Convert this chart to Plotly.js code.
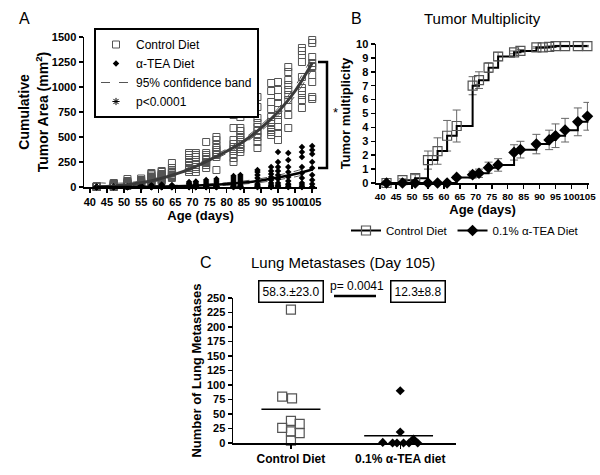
<!DOCTYPE html>
<html><head><meta charset="utf-8">
<script src="https://cdn.plot.ly/plotly-3.0.1.min.js"></script>
<style>html,body{margin:0;padding:0;background:#fff}</style>
</head><body><div id="chart" style="width:600px;height:475px"></div>
<script>
// ---------- Panel A: cumulative tumor area ----------
const areaDays = [42,47,51,55,58,61,64,69,71,74,77,82,84,89,93,95,98,102,105];
const controlArea = [
  [0,0,0,0,0,5,5,10,0,0],
  [0,5,10,15,20,25,30,35,40,0],
  [10,15,20,30,40,50,60,80,25,35],
  [20,30,40,50,60,70,85,45,35,25],
  [40,60,70,90,100,115,130,140,80,50],
  [60,80,100,110,120,130,150,160,90,70],
  [90,110,120,135,150,165,190,240,100,140],
  [150,170,190,210,220,240,250,290,320,340],
  [150,180,200,220,250,270,300,320,340,200],
  [190,220,250,270,300,320,340,450,240,280],
  [170,300,330,350,370,390,420,470,500,320],
  [250,290,330,360,400,430,470,590,720,380],
  [350,380,400,430,470,500,520,560,590,700],
  [390,450,500,530,560,600,640,690,800,900],
  [520,550,570,600,650,700,780,850,960,1040],
  [470,540,600,670,720,770,840,900,970,1050],
  [590,720,800,870,920,970,1020,1070,1150,1200],
  [790,870,920,960,990,1100,1250,1320,1360,1390],
  [880,900,1050,1120,1200,1210,1240,1300,1440,1470]
];
const teaArea = [
  [0,0,0,0,0,0,0,0,0,0],
  [0,0,0,0,0,0,0,0,5,0],
  [0,0,0,0,5,0,0,10,0,0],
  [0,0,0,5,10,0,0,15,0,0],
  [0,0,0,5,10,20,0,0,0,0],
  [0,0,5,10,15,25,0,0,0,0],
  [0,0,5,10,20,0,0,0,0,0],
  [0,0,5,10,20,35,50,0,0,0],
  [0,0,5,15,25,40,55,0,0,0],
  [0,0,10,20,30,50,70,0,5,0],
  [0,0,10,25,40,60,80,0,5,0],
  [0,5,15,30,50,70,90,110,0,0],
  [0,5,20,40,60,80,100,120,0,10],
  [0,10,30,60,90,120,150,170,0,20],
  [0,10,40,70,100,130,160,200,0,20],
  [0,20,40,80,120,160,200,250,350,10],
  [0,20,60,100,150,200,270,340,0,30],
  [0,20,40,90,140,200,300,350,400,0],
  [0,30,70,120,190,250,330,370,410,0]
];
const fitDays    = [42,45,50,55,60,65,70,75,80,85,90,95,100,105];
const controlFit = [2,6,20,42,78,128,192,272,358,458,588,750,960,1240];
const controlHi  = [45,38,40,60,94,145,210,292,380,484,618,786,1008,1300];
const controlLo  = [-40,-25,2,26,62,112,175,253,336,433,560,714,912,1180];
const teaFit     = [0,0,0,2,5,8,13,20,30,45,65,95,130,175];
const teaHi      = [14,12,10,11,13,17,23,31,43,60,84,118,158,210];
const teaLo      = [-14,-12,-10,-7,-3,0,4,9,17,30,46,72,102,140];

// ---------- Panel B: tumor multiplicity ----------
const multDays = [42,47,51,55,58,61,64,69,71,74,77,82,84,89,91,93,95,98,102,105];
const controlMult = [0,0.2,0.35,1.65,2.3,3.4,4.1,7.0,7.4,8.3,9.1,9.4,9.5,9.75,9.75,9.8,9.85,9.85,9.85,9.85];
const controlMultErr = [0,0.1,0.25,0.65,0.95,1.1,1.15,0.65,0.6,0.35,0.3,0.1,0.1,0.05,0.05,0.05,0.05,0.05,0.05,0.05];
const teaMultDays = [42,47,51,55,58,61,64,69,71,74,77,82,84,89,93,95,98,102,105];
const teaMult    = [0,0,0,0,0,0,0.4,0.6,0.7,1.1,1.3,2.2,2.4,2.8,3.1,3.4,3.8,4.4,4.8];
const teaMultErr = [0,0,0,0,0,0,0.1,0.25,0.3,0.4,0.45,0.55,0.6,0.7,0.7,0.85,0.85,1.0,1.0];

// ---------- Panel C: lung metastases ----------
const metCategories = ['Control Diet', '0.1% \u03b1-TEA diet'];
const controlMets = [230,80,77,38,33,26,20,17,4];
const controlJitter = [0,-0.08,0.01,0,0.08,-0.08,0,0.08,0];
const teaMets = [90,19,7,1,0,0,0,0,0];
const teaJitter = [0,0,0.12,-0.16,-0.07,-0.03,0.03,0.08,0.16];
const metMeans = [58.3, 12.3];
const metLabels = ['58.3.\u00b123.0', '12.3\u00b18.8'];
const pLabel = 'p= 0.0041';

// ---------- helpers ----------
const W = 600, H = 475;
const fx = p => p / W, fy = p => 1 - p / H;
const FONT = 'Liberation Sans, Arial, sans-serif';
function flatten(days, groups) {
  const x = [], y = [];
  groups.forEach((g, i) => g.forEach(v => { x.push(days[i]); y.push(v); }));
  return {x, y};
}
const cA = flatten(areaDays, controlArea);
const tA = flatten(areaDays, teaArea);
const band = {color:'#555', width:1, dash:'dash', shape:'spline'};

const traces = [
  // Panel A
  {x: fitDays, y: controlHi, xaxis:'x', yaxis:'y', mode:'lines', line:band, showlegend:false},
  {x: fitDays, y: controlLo, xaxis:'x', yaxis:'y', mode:'lines', line:band, showlegend:false},
  {x: fitDays, y: teaHi, xaxis:'x', yaxis:'y', mode:'lines', line:band, showlegend:false},
  {x: fitDays, y: teaLo, xaxis:'x', yaxis:'y', mode:'lines', line:band, showlegend:false},
  {x: cA.x, y: cA.y, xaxis:'x', yaxis:'y', mode:'markers', name:'Control Diet', legend:'legend',
   marker:{symbol:'square-open', size:7, color:'#555', line:{width:1}}, cliponaxis:false},
  {x: tA.x, y: tA.y, xaxis:'x', yaxis:'y', mode:'markers', name:'\u03b1-TEA Diet', legend:'legend',
   marker:{symbol:'diamond', size:5, color:'#000'}, cliponaxis:false},
  {x: fitDays, y: controlFit, xaxis:'x', yaxis:'y', mode:'lines', line:{color:'#3a3a3a', width:3, shape:'spline'}, showlegend:false},
  {x: fitDays, y: teaFit, xaxis:'x', yaxis:'y', mode:'lines', line:{color:'#000', width:2.5, shape:'spline'}, showlegend:false},
  {x:[null], y:[null], xaxis:'x', yaxis:'y', mode:'lines', line:{color:'#555', width:1, dash:'dash'}, name:'95% confidence band', legend:'legend'},
  {x:[null], y:[null], xaxis:'x', yaxis:'y', mode:'markers', marker:{symbol:'asterisk-open', size:6, color:'#000', line:{width:1,color:'#000'}}, name:'p<0.0001', legend:'legend'},
  // Panel B
  {x: multDays, y: controlMult, xaxis:'x2', yaxis:'y2', mode:'lines+markers', name:'Control Diet', legend:'legend2',
   line:{color:'#000', width:2, shape:'hv'}, marker:{symbol:'square-open', size:9, color:'#555', line:{width:1.2}},
   error_y:{type:'data', array: controlMultErr, color:'#666', thickness:1, width:4}, cliponaxis:false},
  {x: teaMultDays, y: teaMult, xaxis:'x2', yaxis:'y2', mode:'lines+markers', name:'0.1% \u03b1-TEA Diet', legend:'legend2',
   line:{color:'#000', width:2, shape:'hv'}, marker:{symbol:'diamond', size:9, color:'#000'},
   error_y:{type:'data', array: teaMultErr, color:'#666', thickness:1, width:4}, cliponaxis:false},
  // Panel C
  {x: controlJitter.map(d => 0 + d), y: controlMets, xaxis:'x3', yaxis:'y3', mode:'markers', showlegend:false,
   marker:{symbol:'square-open', size:9, color:'#555', line:{width:1.2}}, cliponaxis:false},
  {x: teaJitter.map(d => 1 + d), y: teaMets, xaxis:'x3', yaxis:'y3', mode:'markers', showlegend:false,
   marker:{symbol:'diamond', size:7, color:'#000'}, cliponaxis:false},
  {x: [-0.27, 0.27], y: [metMeans[0], metMeans[0]], xaxis:'x3', yaxis:'y3', mode:'lines', line:{color:'#000', width:1.5}, showlegend:false},
  {x: [0.67, 1.3], y: [metMeans[1], metMeans[1]], xaxis:'x3', yaxis:'y3', mode:'lines', line:{color:'#000', width:1.5}, showlegend:false}
];

const axisBase = {
  showline:true, linecolor:'#000', linewidth:1.5, ticks:'outside', ticklen:4, tickwidth:1.5, tickcolor:'#000',
  showgrid:false, zeroline:false, tickangle:0, fixedrange:true,
  tickfont:{family:FONT, size:11, color:'#000', weight:'bold'}
};
const titleFont = {family:FONT, size:13, color:'#000', weight:'bold'};
const ann = (text, px, py, size, extra) => Object.assign({text, xref:'paper', yref:'paper', x:fx(px), y:fy(py),
  xanchor:'center', yanchor:'middle', showarrow:false, font:{family:FONT, size, color:'#000'}}, extra || {});

const layout = {
  width: W, height: H, autosize:false,
  margin:{l:0,r:0,t:0,b:0},
  paper_bgcolor:'#fff', plot_bgcolor:'rgba(0,0,0,0)',
  font:{family:FONT, color:'#000'},
  xaxis: Object.assign({}, axisBase, {domain:[fx(84), fx(317)], range:[38.3,106.4], anchor:'y', tickmode:'linear', tick0:40, dtick:5,
    title:{text:'Age (days)', font:titleFont, standoff:3}}),
  yaxis: Object.assign({}, axisBase, {domain:[fy(187), fy(37)], range:[0,1500], anchor:'x', tickvals:[0,250,500,750,1000,1250,1500],
    title:{text:'Cumulative<br>Tumor Area (mm<sup>2</sup>)', font:{family:FONT, size:14, color:'#000', weight:'bold'}, standoff:0}}),
  xaxis2: Object.assign({}, axisBase, {domain:[fx(376), fx(589)], range:[38.7,105.5], anchor:'y2', tickmode:'linear', tick0:40, dtick:5,
    tickfont:{family:FONT, size:9.8, color:'#000', weight:'bold'},
    title:{text:'Age (days)', font:titleFont, standoff:2}}),
  yaxis2: Object.assign({}, axisBase, {domain:[fy(183), fy(44)], range:[0,10], anchor:'x2', dtick:1,
    title:{text:'Tumor multiplicity', font:titleFont, standoff:2}}),
  xaxis3: Object.assign({}, axisBase, {domain:[fx(233), fx(456)], range:[-0.53,1.51], anchor:'y3', tickvals:[0,1], ticktext:metCategories,
    tickfont:{family:FONT, size:12, color:'#000', weight:'bold'}}),
  yaxis3: Object.assign({}, axisBase, {domain:[fy(443), fy(298)], range:[0,250], anchor:'x3', dtick:25,
    title:{text:'Number of Lung Metastases', font:titleFont, standoff:2}}),
  legend: {x:fx(94), y:fy(28), xanchor:'left', yanchor:'top', bordercolor:'#000', borderwidth:2, bgcolor:'#fff',
    font:{family:FONT, size:12, color:'#000'}, itemwidth:30, tracegroupgap:0, traceorder:'normal'},
  legend2: {orientation:'h', x:fx(346), y:fy(216), xanchor:'left', yanchor:'top', bgcolor:'rgba(0,0,0,0)',
    font:{family:FONT, size:11.5, color:'#000'}, itemwidth:30},
  annotations: [
    ann('A', 24, 18, 16),
    ann('B', 356, 18, 16),
    ann('Tumor Multiplicity', 482, 18, 15),
    ann('C', 206, 262, 16),
    ann('Lung Metastases (Day 105)', 343, 262, 15),
    ann(metLabels[0], 291, 291, 12, {bordercolor:'#000', borderwidth:1.5, borderpad:3, bgcolor:'#fff'}),
    ann(pLabel, 357, 286, 12),
    ann(metLabels[1], 418, 291, 12, {bordercolor:'#000', borderwidth:1.5, borderpad:3, bgcolor:'#fff'}),
    {text:'*', xref:'paper', yref:'y', x:fx(335), y:740, xanchor:'center', yanchor:'middle', showarrow:false, font:{family:FONT, size:13, color:'#000'}}
  ],
  shapes: [
    {type:'path', xref:'paper', yref:'y', path:`M ${fx(318)} 1250 L ${fx(327)} 1250 L ${fx(327)} 190 L ${fx(318)} 190`,
      line:{color:'#000', width:2.5}},
    {type:'line', xref:'paper', yref:'paper', x0:fx(334), x1:fx(376), y0:fy(296), y1:fy(296), line:{color:'#000', width:2.5}}
  ]
};

Plotly.newPlot('chart', traces, layout, {displayModeBar:false, staticPlot:true});
</script></body></html>
